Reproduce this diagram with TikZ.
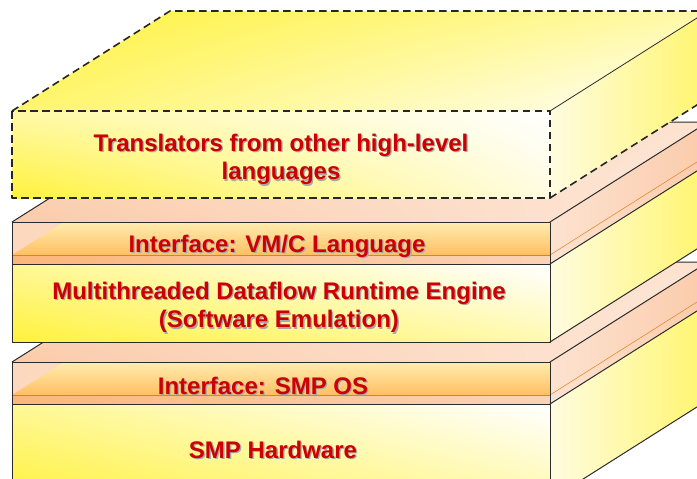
\documentclass[tikz,border=0pt]{standalone}
\usepackage{fontspec}
\setmainfont{Liberation Sans}
\usetikzlibrary{shadings}
\definecolor{layyel}{HTML}{FFF23C}
\definecolor{laypale}{HTML}{FFFCE0}
\definecolor{laypeach}{HTML}{FBCBAA}
\definecolor{layorng}{HTML}{FFB24A}
\definecolor{laybandtop}{HTML}{FFEDB0}
\definecolor{laybandbot}{HTML}{FFBF62}
\definecolor{laystrip}{HTML}{FCB67A}
\definecolor{layred}{HTML}{CC0000}
\definecolor{layedge}{HTML}{2B2B2B}
\definecolor{shgray}{HTML}{A8A8A8}
% text with a soft grey drop shadow
\newcommand\shtxt[1]{\makebox[0pt][l]{\hspace{1.3pt}\raisebox{-1.3pt}{\textcolor{shgray}{#1}}}#1}

\begin{document}
\begin{tikzpicture}[x=1pt, y=-1pt, line join=round,
  every node/.style={font=\fontsize{24}{28.8}\selectfont\bfseries, text=layred,
    align=center, inner sep=0pt},
  edge/.style={draw=layedge, line width=1pt},
  dashedge/.style={draw=black!85, line width=1.6pt, dash pattern=on 7.5pt off 4.5pt}]
  % canvas 697 x 479, y grows downwards, depth vector (158,-100)

  \useasboundingbox (0,0) rectangle (697,479);
  \clip (0,0) rectangle (697,479);

  % -- lower slabs: interface band on top of a thick layer --
  \foreach \t/\b in {362/500, 222/342}{
    % top face
    \shade[lower left=laypeach, upper left=laypeach!70!white,
           upper right=laypeach!55!white, lower right=laypeach!45!white]
      (12,\t) -- ++(158,-100) -- ++(538,0) -- (550,\t) -- cycle;
    % side faces
    \shade[left color=laypeach!55!white, right color=laypeach]
      (550,\t) -- ++(158,-100) -- ++(0,42) -- (550,\t+42) -- cycle;
    \shade[left color=laypale, right color=layyel!75!white]
      (550,\t+42) -- ++(158,-100) -- (708,\b-100) -- (550,\b) -- cycle;
    % front: interface band
    \fill[laypeach!75!white] (12,\t) rectangle (550,\t+33);
    \shade[top color=laybandtop, bottom color=laybandbot]
      (12,\t+33) -- (64.1,\t) -- (550,\t) -- (550,\t+33) -- cycle;
    \shade[left color=laystrip, right color=laypeach!85!white]
      (12,\t+33) rectangle (550,\t+42);
    \draw[orange!55!brown, line width=0.6pt] (12,\t+33) -- (550,\t+33);
    % front: thick layer
    \shade[lower left=layyel, upper left=layyel!45!laypale, upper right=white,
           lower right=layyel!30!laypale]
      (12,\t+42) rectangle (550,\b);
    % edges
    \draw[edge] (12,\t) -- ++(158,-100) -- ++(538,0);
    \draw[edge] (550,\t) -- ++(158,-100);
    \draw[edge] (550,\t+42) -- ++(158,-100);
    \draw[orange!55!brown, line width=0.5pt] (550,\t+33) -- ++(158,-100);
    \draw[edge] (550,\b) -- ++(158,-100);
    \draw[edge] (12,\t) rectangle (550,\b);
    \draw[edge] (12,\t+42) -- (550,\t+42);
  }

  % -- top slab (dashed: optional layer) --
  \shade[lower left=layyel!75!white, upper left=layyel,
         upper right=layyel!45!white, lower right=white]
    (12,111) -- (170,11) -- (708,11) -- (550,111) -- cycle;
  \shade[left color=laypale, right color=layyel!75!white]
    (550,111) -- (708,11) -- (708,98) -- (550,198) -- cycle;
  \shade[lower left=layyel, upper left=layyel!45!white, upper right=white,
         lower right=laypale]
    (12,111) rectangle (550,198);
  \draw[edge, line width=0.8pt] (550,111) -- (708,11);
  \draw[dashedge] (12,111) -- (170,11) -- (708,11);
  \draw[dashedge] (550,198) -- (708,98);
  \draw[dashedge] (12,111) rectangle (550,198);

  % -- labels --
  \node[anchor=north] (trans) at (281,133.5)
    {\shtxt{Translators from other high-level}\\\shtxt{languages}};
  \node[anchor=base] (vmc) at (277,252) {\shtxt{Interface: VM/C Language}};
  \node[anchor=north] (engine) at (279,281.5)
    {\shtxt{Multithreaded Dataflow Runtime Engine}\\\shtxt{(Software Emulation)}};
  \node[anchor=base] (smpos) at (263,394) {\shtxt{Interface: SMP OS}};
  \node[anchor=base] (hw) at (273,458) {\shtxt{SMP Hardware}};
\end{tikzpicture}
\end{document}
